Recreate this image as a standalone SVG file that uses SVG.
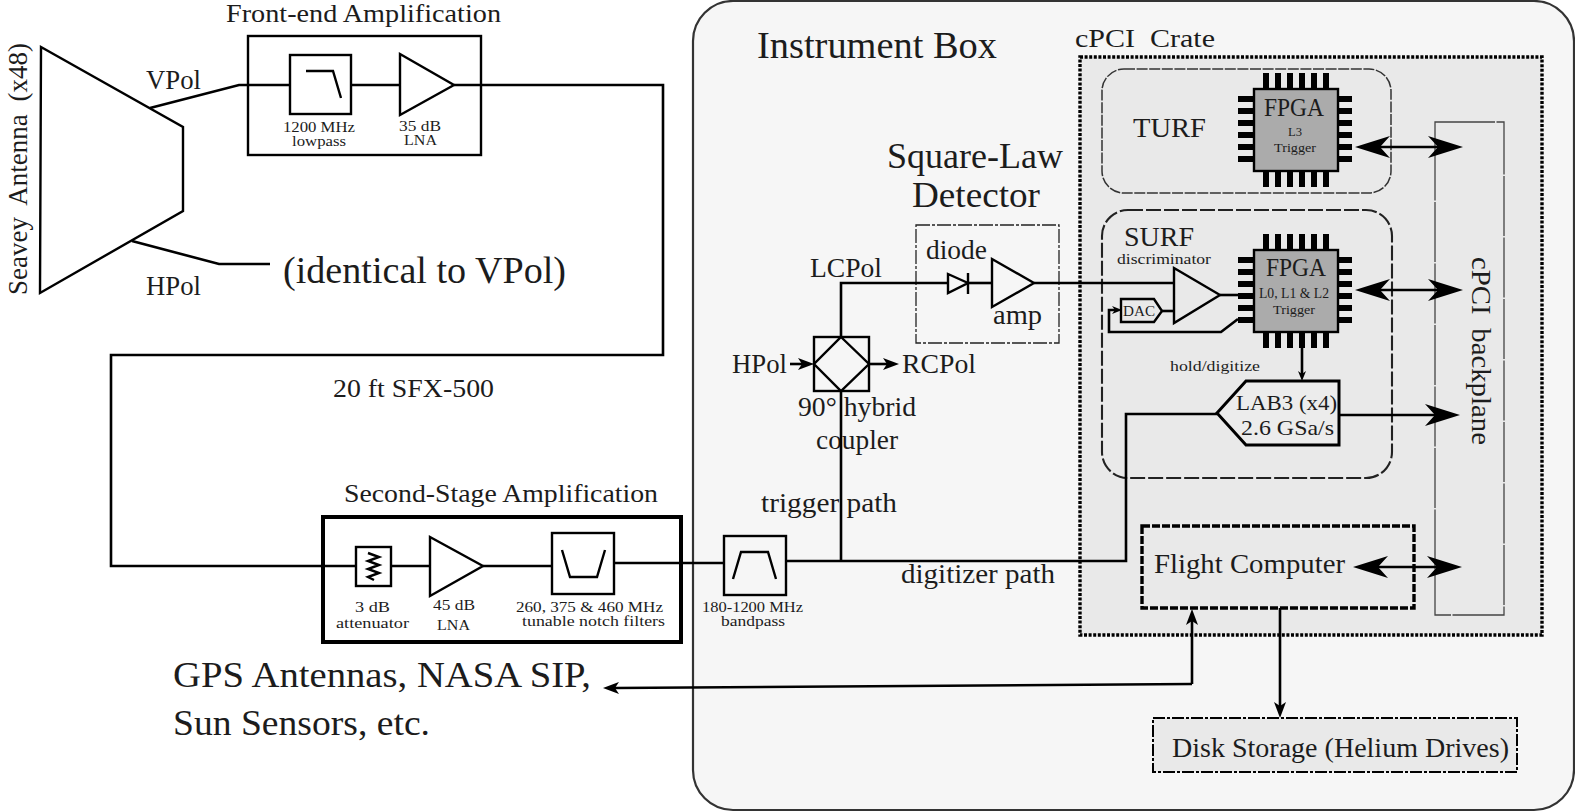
<svg xmlns="http://www.w3.org/2000/svg" width="1575" height="812" viewBox="0 0 1575 812">
<style>
text{font-family:"Liberation Serif","Times New Roman",serif;fill:#1c1c1c;stroke:none}
.ln{fill:none;stroke:#000;stroke-width:2.6;stroke-linejoin:miter}
.sh{fill:none;stroke:#000;stroke-width:2.4}
.f12{font-size:12.5px}.f14{font-size:14.5px}.f15{font-size:15.5px}.f21{font-size:21.5px}.f24{font-size:24.5px}.f27{font-size:27px}.f36{font-size:36px}
</style>
<defs>
<marker id="big" markerUnits="userSpaceOnUse" markerWidth="36" markerHeight="22" viewBox="0 0 36 22" refX="10" refY="11" orient="auto-start-reverse"><path d="M35,11 L0,0 L10,11 L0,22Z" fill="#000"/></marker>
<marker id="sm" markerUnits="userSpaceOnUse" markerWidth="16" markerHeight="12" viewBox="0 0 16 12" refX="4" refY="6" orient="auto"><path d="M16,6 L0,0 L4,6 L0,12Z" fill="#000"/></marker>
<marker id="tiny" markerUnits="userSpaceOnUse" markerWidth="10" markerHeight="8" viewBox="0 0 10 8" refX="3" refY="4" orient="auto"><path d="M10,4 L0,0 L3,4 L0,8Z" fill="#000"/></marker>
<g id="pins"><path d="M12,-16V0M24,-16V0M36,-16V0M48,-16V0M60,-16V0M72,-16V0M12,82v16M24,82v16M36,82v16M48,82v16M60,82v16M72,82v16M-16,10H0M-16,22H0M-16,34H0M-16,46H0M-16,58H0M-16,70H0M84,10h14M84,22h14M84,34h14M84,46h14M84,58h14M84,70h14" stroke="#000" stroke-width="6" fill="none"/><rect x="0" y="0" width="84" height="82" fill="#ababab" stroke="#000" stroke-width="2.4"/></g>
</defs>
<rect width="1575" height="812" fill="#fff"/>

<g id="instrument-box"><rect x="693" y="1" width="881" height="809" rx="40" fill="#f6f6f6" stroke="#333" stroke-width="2.2"/><text x="757" y="58" font-size="37" textLength="240" lengthAdjust="spacingAndGlyphs">Instrument Box</text></g>
<g id="cpci-crate"><rect x="1080" y="57" width="462" height="578" fill="#e9e9e9" stroke="#000" stroke-width="3.4" stroke-dasharray="3 1.6"/><text class="f24" x="1075" y="47" word-spacing="6" textLength="140" lengthAdjust="spacingAndGlyphs">cPCI Crate</text></g>

<g id="antenna"><path class="sh" d="M41,47L183,127V211L40,293Z"/><text class="f27" transform="translate(27,295) rotate(-90)" word-spacing="6" textLength="252" lengthAdjust="spacingAndGlyphs">Seavey Antenna (x48)</text></g>
<text class="f27" x="146" y="89" textLength="55" lengthAdjust="spacingAndGlyphs">VPol</text>
<text class="f27" x="146" y="295" textLength="55" lengthAdjust="spacingAndGlyphs">HPol</text>
<text x="283" y="283" font-size="38" textLength="283" lengthAdjust="spacingAndGlyphs">(identical to VPol)</text>

<g id="front-end"><rect x="248" y="36" width="233" height="119" class="sh"/><text class="f24" x="226" y="22" textLength="275" lengthAdjust="spacingAndGlyphs">Front-end Amplification</text></g>
<g id="lowpass"><rect x="290" y="55" width="61" height="59" class="sh"/><path class="sh" d="M306,71H333L341,98"/><text class="f14" x="283" y="132" textLength="72" lengthAdjust="spacingAndGlyphs">1200 MHz</text><text class="f14" x="292" y="146" textLength="54" lengthAdjust="spacingAndGlyphs">lowpass</text></g>
<g id="lna1"><path class="sh" d="M400,54L454,85L400,115Z"/><text class="f14" x="399" y="131" textLength="42" lengthAdjust="spacingAndGlyphs">35 dB</text><text class="f14" x="404" y="145" textLength="33" lengthAdjust="spacingAndGlyphs">LNA</text></g>
<text class="f24" x="333" y="397" textLength="161" lengthAdjust="spacingAndGlyphs">20 ft SFX-500</text>

<g id="second-stage"><rect x="323" y="517" width="358" height="125" fill="none" stroke="#000" stroke-width="4"/><text class="f24" x="344" y="502" textLength="314" lengthAdjust="spacingAndGlyphs">Second-Stage Amplification</text></g>
<g id="attenuator"><rect x="356" y="547" width="35" height="39" class="sh"/><path class="sh" stroke-width="2.8" d="M368,553L379,557L368,561L379,565L368,569L379,573L368,577L374,580"/><text class="f15" x="355" y="612" textLength="35" lengthAdjust="spacingAndGlyphs">3 dB</text><text class="f15" x="336" y="628" textLength="73" lengthAdjust="spacingAndGlyphs">attenuator</text></g>
<g id="lna2"><path class="sh" d="M430,537L483,566L430,596Z"/><text class="f15" x="433" y="610" textLength="42" lengthAdjust="spacingAndGlyphs">45 dB</text><text class="f15" x="437" y="630" textLength="33" lengthAdjust="spacingAndGlyphs">LNA</text></g>
<g id="notch"><rect x="552" y="533" width="62" height="61" class="sh"/><path class="sh" d="M562,550L570,577H597L605,550"/><text class="f14" x="516" y="612" textLength="147" lengthAdjust="spacingAndGlyphs">260, 375 &amp; 460 MHz</text><text class="f14" x="522" y="626" textLength="143" lengthAdjust="spacingAndGlyphs">tunable notch filters</text></g>
<g id="bandpass"><rect x="724" y="536" width="62" height="59" class="sh"/><path class="sh" d="M733,579L741,552H768L776,579"/><text class="f14" x="702" y="612" textLength="101" lengthAdjust="spacingAndGlyphs">180-1200 MHz</text><text class="f14" x="721" y="626" textLength="64" lengthAdjust="spacingAndGlyphs">bandpass</text></g>

<g id="detector"><rect x="916" y="225" width="143" height="118" fill="none" stroke="#222" stroke-width="1.3" stroke-dasharray="14 2 3 2"/><text class="f36" x="887" y="168" textLength="176" lengthAdjust="spacingAndGlyphs">Square-Law</text><text class="f36" x="912" y="207" textLength="128" lengthAdjust="spacingAndGlyphs">Detector</text></g>
<g id="diode"><path class="sh" stroke-width="2" d="M948,274L968,283L948,293Z"/><path class="sh" d="M968,273V294"/><text class="f27" x="926" y="259" textLength="61" lengthAdjust="spacingAndGlyphs">diode</text></g>
<g id="amp"><path class="sh" d="M992,259L1034,283L992,307Z"/><text class="f27" x="993" y="324" textLength="49" lengthAdjust="spacingAndGlyphs">amp</text></g>
<g id="coupler"><rect x="814" y="337" width="55" height="54" class="sh" stroke-width="2.6"/><path class="sh" stroke-width="2.6" d="M841,337L869,364L841,391L814,364Z"/><text class="f27" x="798" y="416" textLength="118" lengthAdjust="spacingAndGlyphs">90° hybrid</text><text class="f27" x="816" y="449" textLength="82" lengthAdjust="spacingAndGlyphs">coupler</text></g>
<text class="f27" x="810" y="277" textLength="72" lengthAdjust="spacingAndGlyphs">LCPol</text>
<text class="f27" x="732" y="373" textLength="55" lengthAdjust="spacingAndGlyphs">HPol</text>
<text class="f27" x="902" y="373" textLength="74" lengthAdjust="spacingAndGlyphs">RCPol</text>
<text class="f27" x="761" y="512" textLength="136" lengthAdjust="spacingAndGlyphs">trigger path</text>
<text class="f27" x="901" y="583" textLength="154" lengthAdjust="spacingAndGlyphs">digitizer path</text>

<g id="backplane"><rect x="1435" y="122" width="69" height="493" fill="none" stroke="#444" stroke-width="1.3" stroke-dasharray="60 1.5"/><text class="f27" transform="translate(1472,257) rotate(90)" word-spacing="6" textLength="188" lengthAdjust="spacingAndGlyphs">cPCI backplane</text></g>
<g id="turf"><rect x="1102" y="69" width="289" height="124" rx="22" fill="none" stroke="#333" stroke-width="1.5" stroke-dasharray="11 1.6"/><text class="f27" x="1133" y="137" textLength="73" lengthAdjust="spacingAndGlyphs">TURF</text></g>
<g id="turf-fpga"><use href="#pins" x="1254" y="89"/><text class="f24" x="1264" y="116" textLength="60" lengthAdjust="spacingAndGlyphs">FPGA</text><text class="f12" x="1288" y="136" textLength="14" lengthAdjust="spacingAndGlyphs">L3</text><text class="f12" x="1274" y="152" textLength="42" lengthAdjust="spacingAndGlyphs">Trigger</text></g>
<g id="surf"><rect x="1102" y="210" width="290" height="268" rx="26" fill="none" stroke="#222" stroke-width="2.1" stroke-dasharray="15 3"/><text class="f27" x="1124" y="246" textLength="70" lengthAdjust="spacingAndGlyphs">SURF</text><text class="f14" x="1117" y="264" textLength="94" lengthAdjust="spacingAndGlyphs">discriminator</text><text class="f15" x="1170" y="371" textLength="90" lengthAdjust="spacingAndGlyphs">hold/digitize</text></g>
<g id="surf-fpga"><use href="#pins" x="1254" y="250"/><text class="f24" x="1266" y="276" textLength="60" lengthAdjust="spacingAndGlyphs">FPGA</text><text class="f14" x="1259" y="298" textLength="70" lengthAdjust="spacingAndGlyphs">L0, L1 &amp; L2</text><text class="f12" x="1273" y="314" textLength="42" lengthAdjust="spacingAndGlyphs">Trigger</text></g>
<g id="discriminator"><path class="sh" d="M1174,268L1220,295L1174,323Z"/></g>
<g id="dac"><path class="sh" d="M1121,299H1154L1162,311L1154,322H1121Z"/><text class="f14" x="1123" y="316" textLength="32" lengthAdjust="spacingAndGlyphs">DAC</text></g>
<g id="lab3"><path d="M1246,381H1339V445H1246L1217,413Z" fill="#ececec" stroke="#000" stroke-width="3"/><text class="f21" x="1236" y="410" textLength="101" lengthAdjust="spacingAndGlyphs">LAB3 (x4)</text><text class="f21" x="1241" y="435" textLength="93" lengthAdjust="spacingAndGlyphs">2.6 GSa/s</text></g>
<g id="flight-computer"><rect x="1142" y="526" width="272" height="82" fill="none" stroke="#000" stroke-width="3.4" stroke-dasharray="8 2"/><text class="f27" x="1154" y="573" textLength="191" lengthAdjust="spacingAndGlyphs">Flight Computer</text></g>
<g id="disk-storage"><rect x="1153" y="718" width="364" height="54" fill="#e9e9e9" stroke="#000" stroke-width="2" stroke-dasharray="12 2 3 2"/><text class="f27" x="1172" y="757" textLength="337" lengthAdjust="spacingAndGlyphs">Disk Storage (Helium Drives)</text></g>
<g id="external"><text class="f36" x="173" y="687" textLength="418" lengthAdjust="spacingAndGlyphs">GPS Antennas, NASA SIP,</text><text class="f36" x="173" y="735" textLength="257" lengthAdjust="spacingAndGlyphs">Sun Sensors, etc.</text></g>

<g id="connectors">
<path class="ln" d="M150,108L239,85H290"/>
<path class="ln" d="M351,85H400"/>
<path class="ln" d="M454,85H663V355H111V566H356"/>
<path class="ln" stroke-width="2" d="M132,241L219,264H270"/>
<path class="ln" d="M391,566H430"/>
<path class="ln" d="M483,566H552"/>
<path class="ln" d="M614,563H724"/>
<path class="ln" d="M786,561H1126V414H1217"/>
<path class="ln" d="M841,561V391"/>
<path class="ln" d="M841,337V283H948"/>
<path class="ln" d="M968,283H992"/>
<path class="ln" d="M1034,283H1174"/>
<path class="ln" d="M1220,295H1238"/>
<path class="ln" d="M1162,311H1174"/>
<path class="ln" marker-end="url(#tiny)" d="M1238,319L1221,332H1109V310H1115"/>
<path class="ln" marker-end="url(#tiny)" d="M1302,347V374"/>
<path class="ln" marker-start="url(#big)" marker-end="url(#big)" d="M1380,147H1438"/>
<path class="ln" marker-start="url(#big)" marker-end="url(#big)" d="M1380,290H1438"/>
<path class="ln" marker-end="url(#big)" d="M1339,415H1435"/>
<path class="ln" marker-start="url(#big)" marker-end="url(#big)" d="M1378,567H1437"/>
<path class="ln" marker-end="url(#sm)" d="M1280,608V706"/>
<path class="ln" stroke="#333" marker-end="url(#sm)" d="M1192,684V621"/>
<path class="ln" stroke="#333" marker-end="url(#sm)" d="M1192,684L615,688"/>
<path class="ln" marker-end="url(#sm)" d="M790,364H802"/>
<path class="ln" marker-end="url(#sm)" d="M869,364H887"/>
</g>
</svg>
